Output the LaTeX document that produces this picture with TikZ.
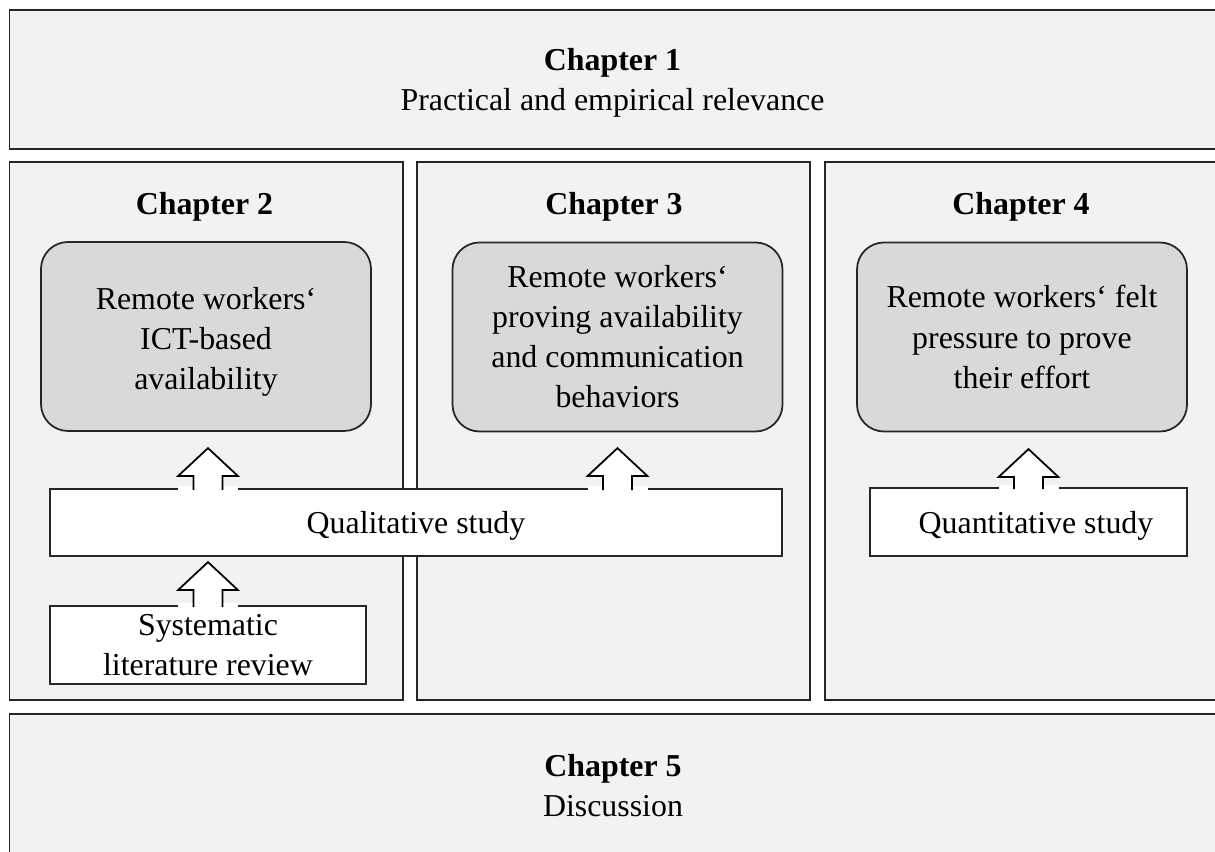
\documentclass[tikz,border=0pt]{standalone}
\usepackage{fontspec}
\setmainfont{Liberation Serif}
\usetikzlibrary{positioning, calc}

\definecolor{framegray}{HTML}{F2F2F2}
\definecolor{topicgray}{HTML}{D9D9D9}
\definecolor{linegray}{HTML}{262626}

\tikzset{
    chapframe/.style={draw=linegray, fill=framegray, line width=0.5pt},
    chaptitle/.style={align=center, inner sep=0pt},
    topicbox/.style={draw=linegray, fill=topicgray, line width=0.5pt, rounded corners=0.27cm,
        minimum width=3.30cm, minimum height=1.89cm, align=center, inner sep=0pt},
    methodbox/.style={draw=linegray, fill=white, line width=0.5pt, align=center, inner sep=0pt},
    arrowline/.style={draw=black, fill=white, line width=0.5pt, line join=miter}
}

% block arrow pointing up: #1 = base point, #2 = length in cm
\newcommand{\blockup}[2]{%
    \fill[white] let \p1=#1 in (\x1-0.30cm,\y1-0.55pt) rectangle (\x1+0.30cm,\y1+0.02cm);
    \filldraw[arrowline] let \p1=#1 in
        (\x1-0.145cm,\y1-0.55pt) -- (\x1-0.145cm,\y1+#2cm-0.28cm) -- (\x1-0.30cm,\y1+#2cm-0.28cm)
        -- (\x1,\y1+#2cm) -- (\x1+0.30cm,\y1+#2cm-0.28cm) -- (\x1+0.145cm,\y1+#2cm-0.28cm)
        -- (\x1+0.145cm,\y1-0.55pt);
}

\begin{document}
\begin{tikzpicture}[font=\fontsize{9.07}{11.4}\selectfont]

        \useasboundingbox (0,0) rectangle (12.15,8.52);
        \clip (0,0) rectangle (12.15,8.52);

        % Draw the chapter frames
        \draw[chapframe] (0.095,8.42) rectangle (12.40,7.03);
        \draw[chapframe] (0.095,6.90) rectangle (4.03,1.52);
        \draw[chapframe] (4.17,6.90) rectangle (8.10,1.52);
        \draw[chapframe] (8.25,6.90) rectangle (12.40,1.52);
        \draw[chapframe] (0.095,1.38) rectangle (12.40,-0.30);

        \node[chaptitle] (Chap1) at (6.125,7.695) {\textbf{Chapter 1}\\Practical and empirical relevance};
        \node[chaptitle] (Chap5) at (6.13,0.66) {\textbf{Chapter 5}\\Discussion};

        \node[chaptitle, anchor=base] (Chap2) at (2.045,6.37) {\textbf{Chapter 2}};
        \node[chaptitle, anchor=base] (Chap3) at (6.14,6.37) {\textbf{Chapter 3}};
        \node[chaptitle, anchor=base] (Chap4) at (10.21,6.37) {\textbf{Chapter 4}};

        % Topics of the chapters
        \node[topicbox] (Availability) at (2.06,5.155) {\\[-0.07cm]Remote workers‘\\ICT-based\\availability};
        \node[topicbox] (Proving) at (6.175,5.15) {Remote workers‘\\proving availability\\and communication\\behaviors};
        \node[topicbox] (Pressure) at (10.22,5.15) {Remote workers‘ felt\\pressure to prove\\their effort};

        % Studies
        \node[methodbox, minimum width=7.32cm, minimum height=0.67cm, text depth=0pt] (Qual) at (4.16,3.295) {Qualitative study};
        \node[methodbox, minimum width=3.17cm, minimum height=0.68cm, text depth=0pt] (Quant) at (10.285,3.30) {\hspace{0.15cm}Quantitative study};
        \node[methodbox, minimum width=3.16cm, minimum height=0.78cm] (Review) at (2.08,2.07) {Systematic\\literature review};

        \blockup{(Qual.north -| Review.north)}{0.40}
        \blockup{(Review.north)}{0.43}
        \blockup{(Qual.north -| Proving.south)}{0.40}
        \blockup{(Quant.north)}{0.38}

      \end{tikzpicture}
\end{document}
